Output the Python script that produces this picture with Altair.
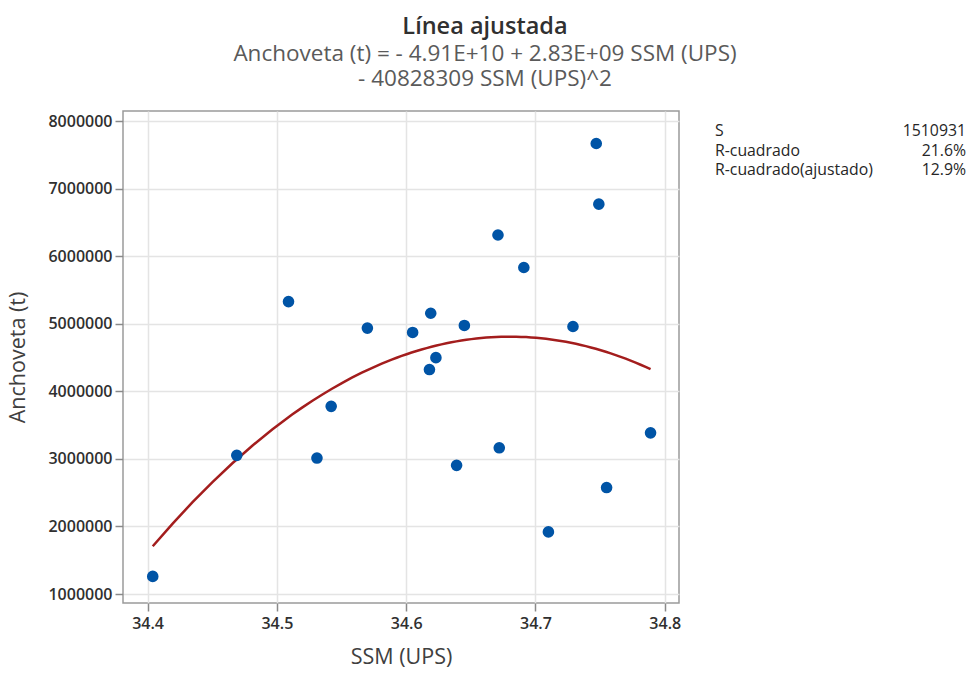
import altair as alt
import pandas as pd

# ---- data ----
ssm = [34.404, 34.469, 34.509, 34.531, 34.542, 34.570, 34.605, 34.619, 34.618, 34.623,
       34.639, 34.645, 34.671, 34.672, 34.691, 34.710, 34.729, 34.747, 34.749, 34.755, 34.789]
anchoveta = [1261000, 3052000, 5327000, 3012000, 3777000, 4935000, 4871000, 5155000, 4322000, 4498000,
             2904000, 4974000, 6313000, 3164000, 5832000, 1919000, 4959000, 7667000, 6769000, 2576000, 3385000]

stat_labels = ["S", "R-cuadrado", "R-cuadrado(ajustado)"]
stat_values = ["1510931", "21.6%", "12.9%"]

x_ticks = [34.4, 34.5, 34.6, 34.7, 34.8]
y_ticks = [1000000, 2000000, 3000000, 4000000, 5000000, 6000000, 7000000, 8000000]

title_text = "Línea ajustada"
subtitle_lines = ["Anchoveta (t) = - 4.91E+10 + 2.83E+09 SSM (UPS)",
                  "- 40828309 SSM (UPS)^2"]

df = pd.DataFrame({"SSM (UPS)": ssm, "Anchoveta (t)": anchoveta})

FONT = "Open Sans"

xs = alt.Scale(domain=[34.381, 34.811], nice=False, zero=False)
ys = alt.Scale(domain=[867000, 8148000], nice=False, zero=False)

xenc = alt.X("SSM (UPS):Q", scale=xs,
             axis=alt.Axis(values=x_ticks, format=".1f", title="SSM (UPS)"))
yenc = alt.Y("Anchoveta (t):Q", scale=ys,
             axis=alt.Axis(values=y_ticks, format="d", title="Anchoveta (t)"))

base = alt.Chart(df)

points = base.mark_circle(size=135, opacity=1, color="#0054a6").encode(x=xenc, y=yenc)

fit = base.transform_regression(
    "SSM (UPS)", "Anchoveta (t)", method="poly", order=2
).mark_line(color="#a31d1d", strokeWidth=2.5).encode(x=xenc, y=yenc)

layers = [fit, points]

# statistics table at right
row_y = [136, 155.5, 175]
for lab, val, yy in zip(stat_labels, stat_values, row_y):
    layers.append(
        alt.Chart(pd.DataFrame({"t": [lab]})).mark_text(
            align="left", baseline="alphabetic", font=FONT, fontSize=15.8, color="#262626"
        ).encode(text="t:N", x=alt.value(715 - 123), y=alt.value(yy - 111))
    )
    layers.append(
        alt.Chart(pd.DataFrame({"t": [val]})).mark_text(
            align="right", baseline="alphabetic", font=FONT, fontSize=15.8, color="#262626"
        ).encode(text="t:N", x=alt.value(966 - 123), y=alt.value(yy - 111))
    )

chart = alt.layer(*layers).properties(
    width=556,
    height=492,
    padding={"left": 123, "top": 111, "right": 291, "bottom": 72},
    autosize=alt.AutoSizeParams(type="none"),
    background="white",
    title=alt.TitleParams(
        text=title_text,
        subtitle=subtitle_lines,
        anchor="middle",
        dx=84,
        offset=21,
        font=FONT,
        fontSize=23.5,
        fontWeight=600,
        color="#303030",
        subtitleFont=FONT,
        subtitleFontSize=22.5,
        subtitleColor="#5a5a5a",
        subtitleLineHeight=25,
        subtitlePadding=4,
    ),
).configure_view(
    stroke="#9a9a9a", strokeWidth=1.5
).configure_axis(
    labelFont=FONT,
    labelFontSize=16,
    labelFontWeight=600,
    labelColor="#303030",
    titleFont=FONT,
    titleFontSize=21.5,
    titleFontWeight="normal",
    titleColor="#404040",
    gridColor="#e4e4e4",
    gridWidth=1.5,
    domain=False,
    tickColor="#8a8a8a",
    tickSize=8,
    tickWidth=1.5,
).configure_axisX(
    labelPadding=4,
    titlePadding=15,
).configure_axisY(
    labelPadding=3,
    titlePadding=18,
)

chart.save("out.html", embed_options={"renderer": "svg", "actions": False})
